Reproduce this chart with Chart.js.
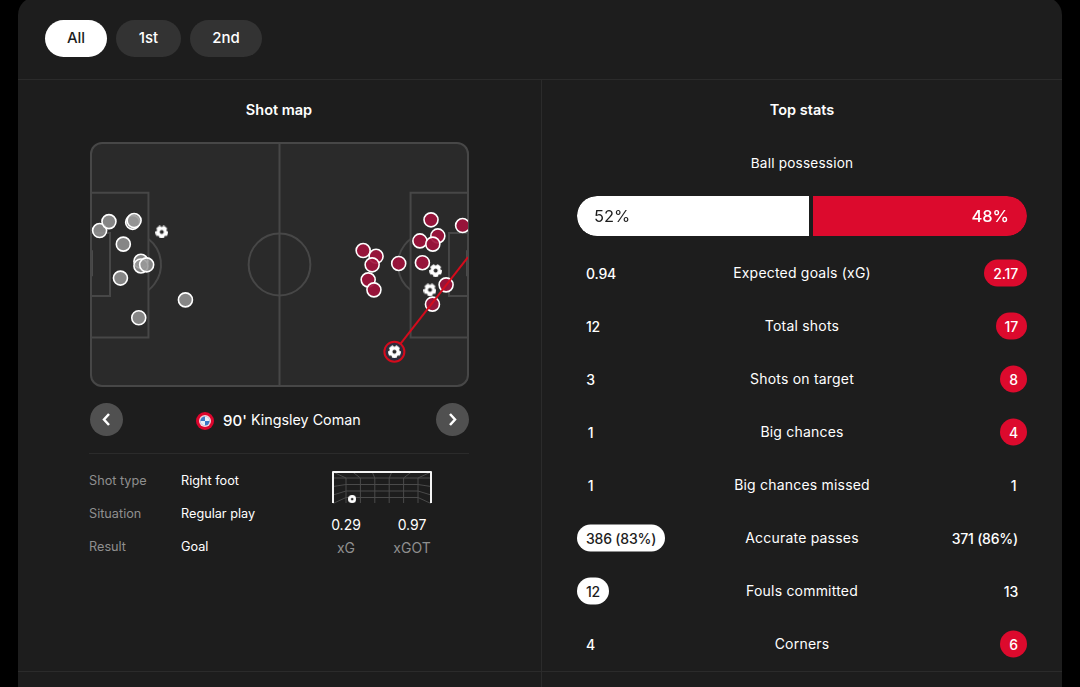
<!DOCTYPE html>
<html>
<head>
<meta charset="utf-8">
<title>Match stats</title>
<script src="https://cdn.jsdelivr.net/npm/chart.js@4"></script>
<style>
  html, body { margin: 0; height: 100%; background: #000; overflow: hidden; }
  body { font-family: Inter, "Noto Sans", sans-serif; color: #fff; position: relative; width: 1080px; height: 687px; }
  .panel { position: absolute; left: 18px; top: -3px; width: 1044px; height: 760px; background: #1d1d1d; border-radius: 18px; }
  .rule { position: absolute; background: #2b2b2b; }
  .t { position: absolute; white-space: nowrap; transform: translateY(-50%); font-size: 12.7px; line-height: 1; }
  .c { transform: translate(-50%, -50%); }
  .pill { position: absolute; top: 20px; height: 37px; border-radius: 19px; background: #333; text-align: center; line-height: 36px; font-size: 15px; font-weight: 500; }
  .pill.on { background: #fff; color: #1d1d1d; }
  h3 { margin: 0; font-size: 14.5px; font-weight: 600; }
  canvas { position: absolute; }
  .grey { color: #8f8f8f; }
  .val { position: absolute; height: 27px; line-height: 27px; padding: 0 9px; min-width: 9px; text-align: center; border-radius: 14px; font-size: 14px; font-weight: 500; letter-spacing: -0.2px; transform: translateY(-50%); white-space: nowrap; }
  .val.home { left: 577px; }
  .val.away { right: 53px; }
  .val.badgeHome { background: #fff; color: #1d1d1d; }
  .val.badgeAway { background: #dc0a2d; }
  .statName { font-size: 14px; letter-spacing: 0.2px; }
  .nav { position: absolute; top: 403px; width: 33px; height: 33px; border-radius: 50%; background: #505050; }
  .nav svg { display: block; }
</style>
</head>
<body>
<div class="panel"></div>
<div class="rule" style="left:18px;top:79px;width:1044px;height:1px"></div>
<div class="rule" style="left:18px;top:671px;width:1044px;height:1px"></div>
<div class="rule" style="left:541px;top:80px;width:1px;height:607px"></div>
<div class="rule" style="left:89px;top:453px;width:380px;height:1px"></div>

<div class="pill on" style="left:45px;width:62px">All</div>
<div class="pill" style="left:116px;width:65px">1st</div>
<div class="pill" style="left:190px;width:72px">2nd</div>

<h3 class="t c" style="left:279px;top:110px;font-size:14.5px">Shot map</h3>
<h3 class="t c" style="left:802px;top:110px;font-size:14.5px">Top stats</h3>

<canvas id="pitchChart" width="381" height="247" style="left:89px;top:141px"></canvas>

<div class="nav" style="left:90px"><svg width="33" height="33"><path d="M19 11l-5 5.5 5 5.5" fill="none" stroke="#fff" stroke-width="2.5"/></svg></div>
<div class="nav" style="left:436px"><svg width="33" height="33"><path d="M14 11l5 5.5-5 5.5" fill="none" stroke="#fff" stroke-width="2.5"/></svg></div>

<svg style="position:absolute;left:196px;top:412px" width="18" height="18">
  <circle cx="9" cy="9" r="9" fill="#dc052d"/><circle cx="9" cy="9" r="6" fill="#f2d6dc"/>
  <circle cx="9" cy="9" r="4.6" fill="#3b78c4"/><path d="M9 4.4a4.6 4.6 0 0 1 4.6 4.6H9z M9 9h-4.6a4.6 4.6 0 0 0 4.6 4.6z" fill="#e8eef6"/>
</svg>
<div class="t" style="left:223px;top:420px;font-size:15px;font-weight:500">90'</div>
<div class="t" style="left:251px;top:420px;font-size:14.3px">Kingsley Coman</div>

<div class="t grey" style="left:89px;top:481px">Shot type</div>
<div class="t" style="left:181px;top:481px">Right foot</div>
<div class="t grey" style="left:89px;top:514px">Situation</div>
<div class="t" style="left:181px;top:514px">Regular play</div>
<div class="t grey" style="left:89px;top:547px">Result</div>
<div class="t" style="left:181px;top:547px">Goal</div>

<canvas id="goalChart" width="102" height="35" style="left:331px;top:470px"></canvas>
<div class="t c" style="left:346px;top:525px;font-size:14px">0.29</div>
<div class="t c" style="left:412px;top:525px;font-size:14px">0.97</div>
<div class="t c grey" style="left:346px;top:548px;font-size:14px">xG</div>
<div class="t c grey" style="left:412px;top:548px;font-size:14px">xGOT</div>

<div class="t c statName" style="left:802px;top:163.5px;font-size:13.6px">Ball possession</div>
<canvas id="possessionChart" width="450" height="40" style="left:577px;top:196px"></canvas>
<div class="t" id="possHome" style="left:594px;top:216px;font-size:16.5px;color:#1d1d1d"></div>
<div class="t" id="possAway" style="right:71px;top:216px;font-size:16.5px;font-weight:500"></div>

<div id="stats"></div>

<script>
// ===== data =====
const possessionShare = [52, 48];

const statLabels = ['Expected goals (xG)', 'Total shots', 'Shots on target', 'Big chances', 'Big chances missed', 'Accurate passes', 'Fouls committed', 'Corners'];
const homeValues = ['0.94', '12', '3', '1', '1', '386 (83%)', '12', '4'];
const awayValues = ['2.17', '17', '8', '4', '1', '371 (86%)', '13', '6'];
const statWinner = ['away', 'away', 'away', 'away', '', 'home', 'home', 'away'];

// shot positions in metres on a 105 x 68 pitch
const homeShotX = [2.4, 5.0, 11.6, 12.0, 9.0, 13.9, 13.9, 15.5, 8.2, 26.3, 13.3];
const homeShotY = [24.5, 22.0, 22.2, 21.7, 28.3, 33.1, 34.4, 34.1, 37.8, 43.9, 48.9];
const homeGoalX = [19.7];
const homeGoalY = [24.9];
const awayShotX = [94.7, 103.5, 96.6, 91.6, 95.2, 75.8, 79.4, 78.3, 85.7, 92.3, 77.2, 78.8, 98.9, 95.1];
const awayShotY = [21.5, 23.1, 26.0, 27.4, 28.3, 30.1, 31.7, 34.1, 33.7, 33.5, 38.3, 41.1, 39.7, 45.1];
const awayGoalX = [96.0, 94.4, 84.5];
const awayGoalY = [35.7, 41.1, 58.4];
const selectedShotX = [84.5, 105];
const selectedShotY = [58.4, 31.9];

// where the selected shot crossed the goal line, metres across and up
const goalShotX = [1.43];
const goalShotY = [0.1];

const toPoints = (xs, ys) => xs.map((x, i) => ({ x, y: ys[i] }));

function makeBall() {
    const c = document.createElement('canvas');
    c.width = c.height = 13;
    const g = c.getContext('2d');
    g.fillStyle = '#fff';
    g.beginPath(); g.arc(6.5, 6.5, 6.5, 0, Math.PI * 2); g.fill();
    g.fillStyle = '#2a2a2a';
    g.beginPath(); g.arc(6.5, 6.5, 2, 0, Math.PI * 2); g.fill();
    for (let i = 0; i < 5; i++) {
        const a = -Math.PI / 2 + i * Math.PI * 2 / 5;
        g.beginPath(); g.arc(6.5 + Math.cos(a) * 6.6, 6.5 + Math.sin(a) * 6.6, 1.5, 0, Math.PI * 2); g.fill();
    }
    return c;
}

// ===== pitch =====
const pitchLines = {
    id: 'pitchLines',
    beforeDatasetsDraw(chart) {
        const { ctx, chartArea: a, scales: { x, y } } = chart;
        const px = v => x.getPixelForValue(v), py = v => y.getPixelForValue(v);
        const box = (x0, x1, y0, y1) => { ctx.beginPath(); ctx.rect(px(x0), py(y0), px(x1) - px(x0), py(y1) - py(y0)); ctx.stroke(); };
        ctx.save();
        ctx.beginPath();
        ctx.roundRect(a.left, a.top, a.width, a.height, 11);
        ctx.fillStyle = '#2a2a2a';
        ctx.fill();
        ctx.clip();
        ctx.strokeStyle = '#474747';
        ctx.lineWidth = 2;
        box(0, 16, 13.9, 54.4); box(105 - 16, 105, 13.9, 54.4);
        box(0, 5.3, 25.2, 42.8); box(105 - 5.3, 105, 25.2, 42.8);
        ctx.beginPath(); ctx.moveTo(px(52.5), a.top); ctx.lineTo(px(52.5), a.bottom); ctx.stroke();
        const r = px(8.6) - px(0);
        ctx.beginPath(); ctx.arc(px(52.5), py(34), r, 0, Math.PI * 2); ctx.stroke();
        const arcR = px(9) - px(0), arcA = Math.acos(5.5 / 9);
        ctx.beginPath(); ctx.arc(px(10.5), py(34), arcR, -arcA, arcA); ctx.stroke();
        ctx.beginPath(); ctx.arc(px(94.5), py(34), arcR, Math.PI - arcA, Math.PI + arcA); ctx.stroke();
        ctx.strokeStyle = '#6a6a6a';
        ctx.lineWidth = 3;
        ctx.beginPath(); ctx.moveTo(px(0), py(30)); ctx.lineTo(px(0), py(37.3)); ctx.stroke();
        ctx.beginPath(); ctx.moveTo(px(105), py(30)); ctx.lineTo(px(105), py(37.3)); ctx.stroke();
        ctx.restore();
        ctx.save();
        ctx.strokeStyle = '#474747';
        ctx.lineWidth = 2;
        ctx.beginPath();
        ctx.roundRect(a.left, a.top, a.width, a.height, 11);
        ctx.stroke();
        ctx.restore();
    }
};

const ball = makeBall();
new Chart(document.getElementById('pitchChart'), {
    type: 'scatter',
    data: {
        datasets: [
            { data: toPoints(homeShotX, homeShotY), backgroundColor: 'rgba(150,150,150,0.85)', borderColor: '#fff', borderWidth: 1.6, pointRadius: 7, order: 4 },
            { data: toPoints(awayShotX, awayShotY), backgroundColor: 'rgba(160,18,60,0.92)', borderColor: '#fff', borderWidth: 1.6, pointRadius: 7, order: 4 },
            { type: 'line', data: toPoints(selectedShotX, selectedShotY), borderColor: '#d40b1c', borderWidth: 2, pointRadius: 0, order: 3 },
            { data: toPoints(selectedShotX.slice(0, 1), selectedShotY.slice(0, 1)), backgroundColor: '#2c2c3e', borderColor: '#d40b1c', borderWidth: 2, pointRadius: 10, order: 2 },
            { data: toPoints(homeGoalX.concat(awayGoalX), homeGoalY.concat(awayGoalY)), pointStyle: ball, pointRadius: 6.5, order: 1 }
        ]
    },
    options: {
        responsive: false, animation: false, devicePixelRatio: 1,
        layout: { padding: 2, autoPadding: false },
        plugins: { legend: { display: false }, tooltip: { enabled: false } },
        scales: {
            x: { type: 'linear', min: 0, max: 105, display: false },
            y: { type: 'linear', min: 0, max: 68, reverse: true, display: false }
        }
    },
    plugins: [pitchLines]
});

// ===== goal frame =====
const goalNet = {
    id: 'goalNet',
    beforeDatasetsDraw(chart) {
        const { ctx, chartArea: a } = chart;
        const backLeft = a.left + 13, backRight = a.right - 13, backTop = a.top + 6;
        ctx.save();
        ctx.strokeStyle = '#4a4a4a';
        ctx.lineWidth = 1;
        ctx.beginPath();
        for (let i = 0; i < 6; i++) {
            const gx = backLeft + i * (backRight - backLeft) / 5;
            ctx.moveTo(gx, a.bottom); ctx.lineTo(gx, backTop);
            ctx.lineTo(a.left + (gx - backLeft) / (backRight - backLeft) * a.width, a.top);
        }
        for (let i = 0; i < 4; i++) {
            const gy = backTop + i * 6.5;
            ctx.moveTo(backLeft, gy); ctx.lineTo(backRight, gy);
            ctx.moveTo(backLeft, gy); ctx.lineTo(a.left, a.top + 6 + i * 8.5);
            ctx.moveTo(backRight, gy); ctx.lineTo(a.right, a.top + 6 + i * 8.5);
        }
        ctx.stroke();
        ctx.strokeStyle = '#f4f4f4';
        ctx.lineWidth = 2;
        ctx.lineJoin = 'round';
        ctx.beginPath(); ctx.moveTo(a.left, a.bottom); ctx.lineTo(a.left, a.top); ctx.lineTo(a.right, a.top); ctx.lineTo(a.right, a.bottom); ctx.stroke();
        ctx.restore();
    }
};

const smallBall = document.createElement('canvas');
smallBall.width = smallBall.height = 8;
(g => {
    g.fillStyle = '#fff'; g.beginPath(); g.arc(4, 4, 4, 0, Math.PI * 2); g.fill();
    g.fillStyle = '#2a2a2a'; g.beginPath(); g.arc(4, 4, 1.3, 0, Math.PI * 2); g.fill();
})(smallBall.getContext('2d'));

new Chart(document.getElementById('goalChart'), {
    type: 'scatter',
    data: { datasets: [{ data: toPoints(goalShotX, goalShotY), pointStyle: smallBall, pointRadius: 4 }] },
    options: {
        responsive: false, animation: false, devicePixelRatio: 1,
        layout: { padding: 2, autoPadding: false },
        plugins: { legend: { display: false }, tooltip: { enabled: false } },
        scales: { x: { type: 'linear', min: 0, max: 7.32, display: false }, y: { type: 'linear', min: 0, max: 0.8, display: false } }
    },
    plugins: [goalNet]
});

// ===== possession bar =====
new Chart(document.getElementById('possessionChart'), {
    type: 'bar',
    data: {
        labels: ['Ball possession'],
        datasets: [
            { data: [possessionShare[0]], backgroundColor: '#fff', borderColor: '#1d1d1d', borderWidth: { right: 2, left: 0, top: 0, bottom: 0 }, borderSkipped: false, inflateAmount: 0, borderRadius: { topLeft: 20, bottomLeft: 20, topRight: 0, bottomRight: 0 } },
            { data: [possessionShare[1]], backgroundColor: '#dc0a2d', borderColor: '#1d1d1d', borderWidth: { left: 2, right: 0, top: 0, bottom: 0 }, borderSkipped: false, inflateAmount: 0, borderRadius: { topRight: 20, bottomRight: 20, topLeft: 0, bottomLeft: 0 } }
        ]
    },
    options: {
        indexAxis: 'y', responsive: false, animation: false, devicePixelRatio: 1,
        barPercentage: 1, categoryPercentage: 1,
        plugins: { legend: { display: false }, tooltip: { enabled: false } },
        scales: {
            x: { stacked: true, min: 0, max: 100, display: false },
            y: { stacked: true, display: false }
        }
    }
});
document.getElementById('possHome').textContent = possessionShare[0] + '%';
document.getElementById('possAway').textContent = possessionShare[1] + '%';

// ===== stat rows =====
const statsEl = document.getElementById('stats');
statLabels.forEach((label, i) => {
    const top = 273 + i * 53;
    const name = document.createElement('div');
    name.className = 't c statName';
    name.style.cssText = `left:802px;top:${top}px`;
    name.textContent = label;
    statsEl.appendChild(name);
    const home = document.createElement('div');
    home.className = 'val home' + (statWinner[i] === 'home' ? ' badgeHome' : '');
    home.style.top = top + 'px';
    home.textContent = homeValues[i];
    statsEl.appendChild(home);
    const away = document.createElement('div');
    away.className = 'val away' + (statWinner[i] === 'away' ? ' badgeAway' : '');
    away.style.top = top + 'px';
    away.textContent = awayValues[i];
    statsEl.appendChild(away);
});
</script>
</body>
</html>
